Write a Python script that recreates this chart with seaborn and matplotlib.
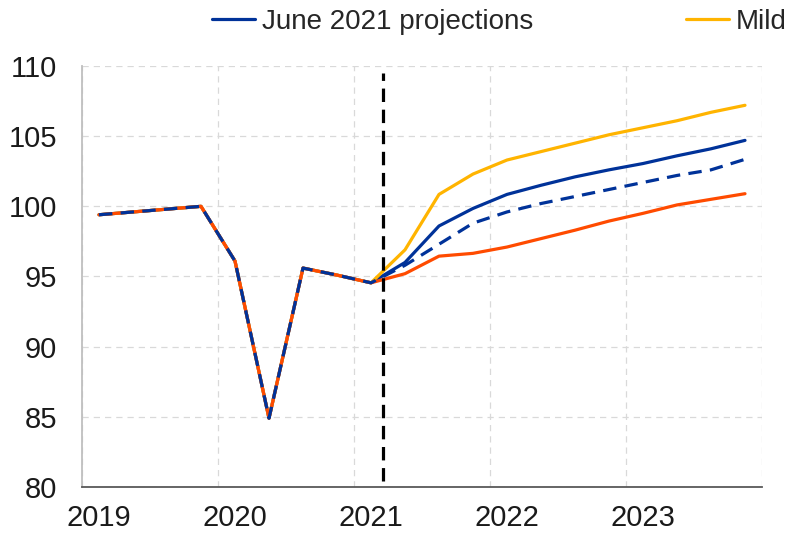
import numpy as np
import pandas as pd
import matplotlib
matplotlib.use("Agg")
import matplotlib.pyplot as plt
from matplotlib.lines import Line2D
import seaborn as sns

# quarterly index, 2019Q1 .. 2023Q4
quarters = pd.period_range("2019Q1", "2023Q4", freq="Q")
years = [2019, 2020, 2021, 2022, 2023]

# history up to 2021Q1 (shared by all scenarios)
history = [99.4, 99.6, 99.8, 100.0, 96.1, 84.9, 95.6, 95.1, 94.55]

# projections 2021Q2 .. 2023Q4
june_proj = [96.0, 98.6, 99.85, 100.85, 101.5, 102.1, 102.6, 103.05, 103.6, 104.1, 104.7]
mild_proj = [96.9, 100.85, 102.3, 103.3, 103.9, 104.5, 105.1, 105.6, 106.1, 106.7, 107.2]
severe_proj = [95.2, 96.45, 96.65, 97.1, 97.7, 98.3, 98.95, 99.5, 100.1, 100.5, 100.9]
march_proj = [95.8, 97.3, 98.8, 99.6, 100.2, 100.7, 101.2, 101.7, 102.2, 102.6, 103.35]

cutoff = 8.35  # vertical marker, just after 2021Q1

blue = "#003299"
yellow = "#FFB400"
orange = "#FF4B00"

t = np.arange(len(quarters))
df = pd.DataFrame({
    "t": t,
    "June 2021 projections": history + june_proj,
    "Mild": history + mild_proj,
    "Severe": history + severe_proj,
    "March 2021 projections": history + march_proj,
})

sns.set_style("white")
plt.rcParams["font.family"] = ["Liberation Sans", "DejaVu Sans"]

fig = plt.figure(figsize=(7.94, 5.35), dpi=100)
ax = fig.add_axes([82 / 794, 1 - 487 / 535, 680 / 794, 421 / 535])

lw = 2.3
sns.lineplot(data=df, x="t", y="June 2021 projections", color=blue, lw=lw, ax=ax)
sns.lineplot(data=df, x="t", y="Mild", color=yellow, lw=lw, ax=ax)
sns.lineplot(data=df, x="t", y="Severe", color=orange, lw=lw, ax=ax)
sns.lineplot(data=df, x="t", y="March 2021 projections", color=blue, lw=lw,
             linestyle=(0, (4.2, 2.6)), ax=ax)

# cut-off line
ax.plot([cutoff, cutoff], [80.4, 109.5], color="black", lw=2.3,
        linestyle=(0, (4.2, 2.4)), zorder=5)

ax.set_xlim(-0.5, 19.5)
ax.set_ylim(80, 110)
ax.set_yticks(np.arange(80, 111, 5))
ax.set_xlabel("")
ax.set_ylabel("")

# year boundaries as major ticks, year labels at Q1 positions as minor ticks
ax.set_xticks(np.arange(-0.5, 20, 4))
ax.set_xticklabels([])
ax.set_xticks(np.arange(0, 20, 4), minor=True)
ax.set_xticklabels([str(y) for y in years], minor=True)
ax.tick_params(axis="x", which="major", direction="inout", length=13,
               width=1.3, color="#595959")
ax.tick_params(axis="x", which="minor", length=0, pad=12, labelsize=21,
               labelcolor="#1a1a1a")
ax.tick_params(axis="y", length=0, pad=18, labelsize=21, labelcolor="#1a1a1a")

ax.grid(True, which="major", color="#d9d9d9", lw=0.9, linestyle=(0, (5, 4)))
for s in ["top", "right"]:
    ax.spines[s].set_visible(False)
ax.spines["left"].set_color("#bfbfbf")
ax.spines["left"].set_linewidth(1.3)
ax.spines["bottom"].set_color("#595959")
ax.spines["bottom"].set_linewidth(1.3)

handles = [Line2D([], [], color=blue, lw=lw), Line2D([], [], color=yellow, lw=lw)]
fig.legend(handles, ["June 2021 projections", "Mild"], loc="center left",
           bbox_to_anchor=(212 / 794, 1 - 22 / 535), ncol=2, frameon=False,
           fontsize=20, handlelength=1.55, handletextpad=0.25,
           columnspacing=5.5, borderpad=0, borderaxespad=0)

fig.savefig("out.png", dpi=100)
